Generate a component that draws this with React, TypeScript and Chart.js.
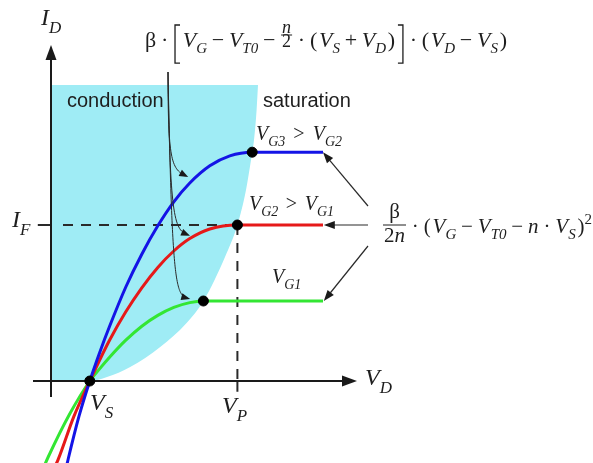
import React, { useEffect, useRef } from 'react';
import { Chart, registerables } from 'chart.js';

Chart.register(...registerables);

// ---------- data (VD in arbitrary volts, ID in arbitrary current units) ----------
const VS = 0.97;
const VP = 4.66;
const IF = 3.9;

const blueVD = [0.35, 0.43, 0.7, 0.97, 1.22, 1.47, 1.87, 2.27, 2.67, 3.07, 3.47, 3.97, 4.47, 5.03, 6.8];
const blueID = [-2.3, -1.95, -0.88, 0, 0.72, 1.38, 2.35, 3.17, 3.88, 4.48, 4.95, 5.38, 5.63, 5.72, 5.72];

const redVD = [0.07, 0.18, 0.57, 0.97, 1.22, 1.47, 1.87, 2.27, 2.67, 3.07, 3.47, 3.97, 4.66, 6.8];
const redID = [-2.2, -1.96, -0.89, 0, 0.53, 1.03, 1.73, 2.33, 2.84, 3.25, 3.56, 3.8, 3.9, 3.9];

const greenVD = [-0.18, -0.07, 0.47, 0.97, 1.22, 1.47, 1.87, 2.27, 2.67, 3.07, 3.47, 3.81, 6.8];
const greenID = [-2.15, -1.9, -0.82, 0, 0.31, 0.6, 1.02, 1.37, 1.64, 1.84, 1.96, 2.0, 2.0];

const satVD = [0, 0.97, 1.4, 1.98, 2.73, 3.39, 3.81, 4.35, 4.66, 4.875, 5.0, 5.075, 5.14, 5.175];
const satID = [0, 0, 0.1, 0.35, 0.85, 1.45, 2.0, 3.1, 3.9, 4.775, 5.525, 6.025, 6.775, 7.4];
const conductionTop = 7.4;

const pinchVD = [VS, 3.81, 4.66, 5.03];
const pinchID = [0, 2.0, 3.9, 5.72];

const X_MIN = -1.275;
const X_MAX = 13.55;
const Y_MIN = -2.05;
const Y_MAX = 9.525;

const pts = (xs: number[], ys: number[]) => xs.map((x, i) => ({ x, y: ys[i] }));

// ---------- math text renderer ----------
type Tok = { k: 'v' | 's' | 'o' | 'b' | 'sup' | 'lb' | 'rb' | 'frac'; t?: string; num?: Tok[]; den?: Tok[] };
type MS = { size: number; sub: number; subDy: number; pad: number; fsize?: number; numDy?: number; barDy?: number; denDy?: number };
const SERIF = '"Liberation Serif", "DejaVu Serif", serif';
const SANS = '"Liberation Sans", Arial, sans-serif';
const INK = '#1e1e1e';

function fontFor(k: string, st: MS) {
  if (k === 'v') return `italic ${st.size}px ${SERIF}`;
  if (k === 's') return `italic ${st.sub}px ${SERIF}`;
  if (k === 'sup') return `${st.sub}px ${SERIF}`;
  return `${st.size}px ${SERIF}`;
}
function tokW(ctx: CanvasRenderingContext2D, tok: Tok, st: MS): number {
  if (tok.k === 'lb' || tok.k === 'rb') return 8;
  if (tok.k === 'frac') {
    const fs = { ...st, size: st.fsize ?? st.size };
    return Math.max(rowW(ctx, tok.num!, fs), rowW(ctx, tok.den!, fs)) + 4;
  }
  ctx.font = fontFor(tok.k, st);
  return ctx.measureText(tok.t!).width + (tok.k === 'b' ? 2 * st.pad : 0);
}
function rowW(ctx: CanvasRenderingContext2D, toks: Tok[], st: MS) {
  return toks.reduce((a, t) => a + tokW(ctx, t, st), 0);
}
function drawTok(ctx: CanvasRenderingContext2D, t: Tok, x: number, y: number, st: MS, w: number) {
  ctx.textBaseline = 'alphabetic';
  ctx.textAlign = 'left';
  if (t.k === 'lb' || t.k === 'rb') {
    const top = y - st.size * 1.0;
    const bot = y + st.size * 0.73;
    const xv = t.k === 'lb' ? x + 2 : x + w - 2;
    const xe = t.k === 'lb' ? xv + 5 : xv - 5;
    ctx.lineWidth = 1.3;
    ctx.beginPath();
    ctx.moveTo(xe, top);
    ctx.lineTo(xv, top);
    ctx.lineTo(xv, bot);
    ctx.lineTo(xe, bot);
    ctx.stroke();
    return;
  }
  if (t.k === 'frac') {
    const fs = { ...st, size: st.fsize ?? st.size };
    const nw = rowW(ctx, t.num!, fs);
    const dw = rowW(ctx, t.den!, fs);
    drawRow(ctx, t.num!, x + (w - nw) / 2, y + (st.numDy ?? -12), fs);
    drawRow(ctx, t.den!, x + (w - dw) / 2, y + (st.denDy ?? 8), fs);
    ctx.lineWidth = 1;
    ctx.beginPath();
    ctx.moveTo(x + 1, y + (st.barDy ?? -7));
    ctx.lineTo(x + w - 1, y + (st.barDy ?? -7));
    ctx.stroke();
    return;
  }
  ctx.font = fontFor(t.k, st);
  const dy = t.k === 's' ? st.subDy : t.k === 'sup' ? -9 : 0;
  ctx.fillText(t.t!, x + (t.k === 'b' ? st.pad : 0), y + dy);
}
function drawRow(ctx: CanvasRenderingContext2D, toks: Tok[], x: number, y: number, st: MS, target?: number) {
  const natural = rowW(ctx, toks, st);
  let gaps = 0;
  toks.forEach((t, i) => {
    if (i > 0 && t.k !== 's' && t.k !== 'sup') gaps++;
  });
  const extra = target && gaps ? (target - natural) / gaps : 0;
  let cx = x;
  toks.forEach((t, i) => {
    if (i > 0 && t.k !== 's' && t.k !== 'sup') cx += extra;
    const w = tokW(ctx, t, st);
    drawTok(ctx, t, cx, y, st, w);
    cx += w;
  });
}

const v = (t: string): Tok => ({ k: 'v', t });
const s = (t: string): Tok => ({ k: 's', t });
const o = (t: string): Tok => ({ k: 'o', t });
const b = (t: string): Tok => ({ k: 'b', t });

const topFormula: Tok[] = [
  o('β'), b('·'), { k: 'lb' }, v('V'), s('G'), b('−'), v('V'), s('T0'), b('−'),
  { k: 'frac', num: [v('n')], den: [o('2')] },
  b('·'), o('('), v('V'), s('S'), b('+'), v('V'), s('D'), o(')'), { k: 'rb' },
  b('·'), o('('), v('V'), s('D'), b('−'), v('V'), s('S'), o(')'),
];
const satFormula: Tok[] = [
  { k: 'frac', num: [o('β')], den: [o('2'), v('n')] },
  b('·'), o('('), v('V'), s('G'), b('−'), v('V'), s('T0'), b('−'), v('n'), b('·'), v('V'), s('S'), o(')'), { k: 'sup', t: '2' },
];

const topStyle: MS = { size: 22, sub: 15, subDy: 6, pad: 3, fsize: 18, numDy: -14, barDy: -12, denDy: 0 };
const rightStyle: MS = { size: 21, sub: 15, subDy: 6, pad: 3, fsize: 21, numDy: -15, barDy: -8, denDy: 9 };
const labelStyle: MS = { size: 20, sub: 14, subDy: 6, pad: 3 };
const axisStyle: MS = { size: 24, sub: 17, subDy: 8, pad: 0 };

function head(ctx: CanvasRenderingContext2D, tx: number, ty: number, dx: number, dy: number, len: number, half: number) {
  const L = Math.hypot(dx, dy);
  const ux = dx / L;
  const uy = dy / L;
  const bx = tx - ux * len;
  const by = ty - uy * len;
  ctx.beginPath();
  ctx.moveTo(tx, ty);
  ctx.lineTo(bx - uy * half, by + ux * half);
  ctx.lineTo(bx + uy * half, by - ux * half);
  ctx.closePath();
  ctx.fill();
}

const decor = {
  id: 'decor',
  afterDatasetDraw(chart: any, args: any) {
    if (args.index !== 4) return;
    const ctx: CanvasRenderingContext2D = chart.ctx;
    const X = (val: number) => chart.scales.x.getPixelForValue(val);
    const Y = (val: number) => chart.scales.y.getPixelForValue(val);
    const x0 = X(0);
    const y0 = Y(0);
    ctx.save();
    // dashed guides
    ctx.strokeStyle = '#2a2a2a';
    ctx.lineWidth = 2;
    ctx.setLineDash([10, 8]);
    ctx.beginPath();
    ctx.moveTo(X(0.3), Y(IF));
    ctx.lineTo(X(VP), Y(IF));
    ctx.moveTo(X(VP), Y(IF));
    ctx.lineTo(X(VP), y0);
    ctx.stroke();
    ctx.setLineDash([]);
    ctx.beginPath();
    ctx.moveTo(X(-0.33), Y(IF));
    ctx.lineTo(x0, Y(IF));
    ctx.moveTo(X(VP), y0);
    ctx.lineTo(X(VP), Y(-0.27));
    ctx.stroke();
    // axes
    ctx.strokeStyle = '#1a1a1a';
    ctx.fillStyle = '#1a1a1a';
    ctx.lineWidth = 2;
    ctx.beginPath();
    ctx.moveTo(X(-0.45), y0);
    ctx.lineTo(X(7.3), y0);
    ctx.moveTo(x0, Y(-0.4));
    ctx.lineTo(x0, Y(8.05));
    ctx.stroke();
    head(ctx, X(7.65), y0, 1, 0, 15, 5.5);
    head(ctx, x0, Y(8.4), 0, -1, 15, 5.5);
    ctx.restore();
  },
  afterDatasetsDraw(chart: any) {
    const ctx: CanvasRenderingContext2D = chart.ctx;
    const X = (val: number) => chart.scales.x.getPixelForValue(val);
    const Y = (val: number) => chart.scales.y.getPixelForValue(val);
    ctx.save();
    ctx.strokeStyle = '#2a2a2a';
    ctx.fillStyle = '#1a1a1a';
    // curved arrows from the conduction formula
    const O = { x: X(2.925), y: Y(7.725) };
    const tips = [
      { x: X(3.43), y: Y(5.1), a: 0, b: 17, c: 17, d: 9 },
      { x: X(3.475), y: Y(3.63), a: 2, b: 20, c: 16, d: 7 },
      { x: X(3.48), y: Y(2.05), a: 4, b: 20, c: 15, d: 4 },
    ];
    ctx.lineWidth = 1;
    tips.forEach((T) => {
      const c1x = O.x + T.a;
      const c1y = T.y - T.b;
      const c2x = T.x - T.c;
      const c2y = T.y - T.d;
      ctx.beginPath();
      ctx.moveTo(O.x, O.y);
      ctx.bezierCurveTo(c1x, c1y, c2x, c2y, T.x - 3, T.y - 1);
      ctx.stroke();
      head(ctx, T.x, T.y, T.x - c2x, T.y - c2y, 9, 3.5);
    });
    // straight arrows from the saturation formula to the plateaus
    const ends = [
      { tx: X(6.8), ty: Y(5.72), fx: 368, fy: 206 },
      { tx: X(6.82), ty: Y(3.9), fx: 368, fy: Y(3.9) },
      { tx: X(6.82), ty: Y(2.0), fx: 368, fy: 246 },
    ];
    ctx.lineWidth = 1.2;
    ends.forEach((e) => {
      ctx.beginPath();
      ctx.moveTo(e.fx, e.fy);
      ctx.lineTo(e.tx + (e.fx - e.tx) * 0.15, e.ty + (e.fy - e.ty) * 0.15);
      ctx.stroke();
      head(ctx, e.tx, e.ty, e.tx - e.fx, e.ty - e.fy, 11, 4);
    });

    // text
    ctx.fillStyle = INK;
    ctx.strokeStyle = INK;
    drawRow(ctx, topFormula, 145, 47, topStyle, 362);
    drawRow(ctx, satFormula, 382, 233, rightStyle, 210);

    drawRow(ctx, [v('V'), s('G3'), b('>'), v('V'), s('G2')], 256, 140, labelStyle, 86);
    drawRow(ctx, [v('V'), s('G2'), b('>'), v('V'), s('G1')], 249, 210, labelStyle, 85);
    drawRow(ctx, [v('V'), s('G1')], 272, 283, labelStyle);

    drawRow(ctx, [v('I'), s('D')], 41, 25, axisStyle);
    drawRow(ctx, [v('I'), s('F')], 12, 227, axisStyle);
    drawRow(ctx, [v('V'), s('D')], 365, 385, axisStyle);
    drawRow(ctx, [v('V'), s('S')], 90, 410, axisStyle);
    drawRow(ctx, [v('V'), s('P')], 222, 413, axisStyle);

    ctx.font = `20px ${SANS}`;
    ctx.textBaseline = 'alphabetic';
    ctx.textAlign = 'left';
    ctx.fillText('conduction', 67, 107);
    ctx.fillText('saturation', 263, 107);
    ctx.restore();
  },
};

export default function App() {
  const ref = useRef<HTMLCanvasElement>(null);
  useEffect(() => {
    const chart = new Chart(ref.current as HTMLCanvasElement, {
      type: 'line',
      data: {
        datasets: [
          {
            label: 'pinch-off',
            data: pts(pinchVD, pinchID),
            showLine: false,
            pointRadius: 5,
            pointBackgroundColor: '#000',
            pointBorderColor: '#000',
            pointBorderWidth: 1,
            order: 0,
          } as any,
          {
            label: 'VG3',
            data: pts(blueVD, blueID),
            borderColor: '#1414e6',
            borderWidth: 3,
            pointRadius: 0,
            cubicInterpolationMode: 'monotone',
            fill: false,
            order: 1,
          },
          {
            label: 'VG2',
            data: pts(redVD, redID),
            borderColor: '#e61919',
            borderWidth: 3,
            pointRadius: 0,
            cubicInterpolationMode: 'monotone',
            fill: false,
            order: 2,
          },
          {
            label: 'VG1',
            data: pts(greenVD, greenID),
            borderColor: '#33e633',
            borderWidth: 3,
            pointRadius: 0,
            cubicInterpolationMode: 'monotone',
            fill: false,
            order: 3,
          },
          {
            label: 'conduction',
            data: pts(satVD, satID),
            borderColor: 'rgba(0,0,0,0)',
            borderWidth: 1,
            backgroundColor: '#9fecf5',
            pointRadius: 0,
            cubicInterpolationMode: 'monotone',
            fill: { value: conductionTop },
            order: 5,
          } as any,
        ],
      },
      options: {
        animation: false,
        responsive: false,
        devicePixelRatio: 1,
        events: [],
        layout: { padding: 0, autoPadding: false },
        scales: {
          x: { type: 'linear', min: X_MIN, max: X_MAX, display: false },
          y: { type: 'linear', min: Y_MIN, max: Y_MAX, display: false },
        },
        plugins: {
          legend: { display: false },
          tooltip: { enabled: false },
          title: { display: false },
        },
      },
      plugins: [decor as any],
    });
    return () => chart.destroy();
  }, []);
  return (
    <div style={{ position: 'absolute', left: 0, top: 0, width: 593, height: 463, background: '#fff' }}>
      <canvas ref={ref} width={593} height={463} style={{ display: 'block', width: 593, height: 463 }} />
    </div>
  );
}
